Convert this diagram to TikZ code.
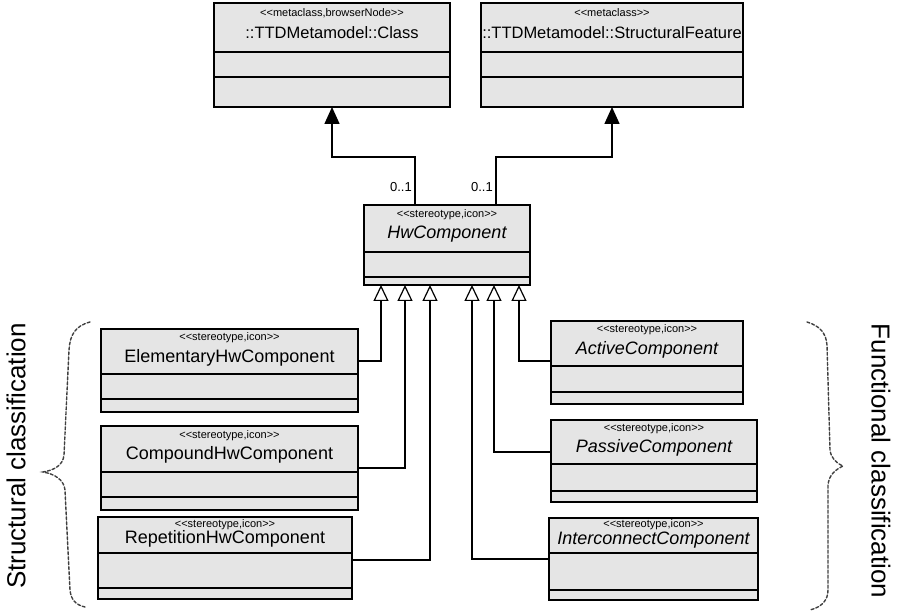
\documentclass[tikz,border=0pt]{standalone}
\usepackage{fontspec}
\setmainfont{Liberation Sans}
\usetikzlibrary{arrows.meta,calc,shadows}
\tikzset{
 umlbox/.style={draw=black, line width=1.5pt, fill=black!10, inner sep=0pt, outer sep=0pt,
   drop shadow={shadow xshift=1.3pt, shadow yshift=-1.3pt, fill=black!85, opacity=1}},
 divider/.style={line width=1.2pt},
 stereo/.style={font=\fontsize{11}{12}\selectfont, inner sep=0pt},
 ctitle/.style={font=\fontsize{18}{20}\selectfont, inner sep=0pt},
 ttitle/.style={font=\fontsize{16.5}{18}\selectfont, inner sep=0pt},
 gen/.style={line width=1.3pt, -{Triangle[length=16pt,width=15pt,fill=white,line width=1.2pt]}},
 assoc/.style={line width=1.5pt, -{Triangle[length=17pt,width=15pt]}},
 mult/.style={font=\fontsize{13}{14}\selectfont, inner sep=0pt},
 bracepath/.style={line width=1.4pt, dash pattern=on 3pt off 2pt, line cap=round, black!75},
 classlabel/.style={font=\fontsize{26}{28}\selectfont, inner sep=0pt}
}
% name, x, y, w, h, div1, div2, stereotype, title(with style)
\newcommand\umlclass[9]{%
 \node[umlbox, anchor=north west, minimum width=#4pt, minimum height=#5pt] (#1) at (#2,#3) {};
 \draw[divider] ($(#1.north west)+(0,#6)$) -- ($(#1.north east)+(0,#6)$);
 \draw[divider] ($(#1.north west)+(0,#7)$) -- ($(#1.north east)+(0,#7)$);
 \node[stereo] (#1-st) at ($(#1.north)+(0,{0.2*#6})$) {#8};
 #9
}
\begin{document}
\begin{tikzpicture}[x=1pt,y=-1pt]
\useasboundingbox (0,0) rectangle (898,612);

% top classes
\umlclass{cls}{214}{3}{236}{104}{49}{74}{<{}<metaclass,browserNode>{}>}
 {\node[ttitle] (cls-ti) at ($(cls.north)+(0,30)$) {::TTDMetamodel::Class};}
\umlclass{sf}{481}{3}{262}{104}{49}{74}{<{}<metaclass>{}>}
 {\node[ttitle] (sf-ti) at ($(sf.north)+(0,30)$) {::TTDMetamodel::StructuralFeature};}

% central class
\umlclass{hw}{364}{205}{166}{80}{47}{72}{<{}<stereotype,icon>{}>}
 {\node[ctitle] (hw-ti) at ($(hw.north)+(0,29)$) {\itshape HwComponent};}

% structural classification
\umlclass{elem}{101}{329}{257}{83}{45}{70}{<{}<stereotype,icon>{}>}
 {\node[ctitle] (elem-ti) at ($(elem.north)+(0,29)$) {ElementaryHwComponent};}
\umlclass{comp}{101}{426}{257}{84}{46}{71}{<{}<stereotype,icon>{}>}
 {\node[ctitle] (comp-ti) at ($(comp.north)+(0,29)$) {CompoundHwComponent};}
\umlclass{rep}{98}{517}{254}{82}{36}{71}{<{}<stereotype,icon>{}>}
 {\node[ctitle] (rep-ti) at ($(rep.north)+(0,22)$) {RepetitionHwComponent};}

% functional classification
\umlclass{act}{551}{321}{192}{83}{45}{71}{<{}<stereotype,icon>{}>}
 {\node[ctitle] (act-ti) at ($(act.north)+(0,29)$) {\itshape ActiveComponent};}
\umlclass{pas}{551}{420}{206}{82}{44}{71}{<{}<stereotype,icon>{}>}
 {\node[ctitle] (pas-ti) at ($(pas.north)+(0,28)$) {\itshape PassiveComponent};}
\umlclass{ic}{549}{518}{209}{82}{35}{72}{<{}<stereotype,icon>{}>}
 {\node[ctitle] (ic-ti) at ($(ic.north)+(0,22)$) {\itshape InterconnectComponent};}

% associations to metaclasses
\draw[assoc] ($(hw.north west)+(51,0)$) |- ($(cls.south)+(0,50)$) -- (cls.south);
\draw[assoc] ($(hw.north west)+(132,0)$) |- ($(sf.south)+(0,50)$) -- (sf.south);
\node[mult, anchor=east] (m1) at ($(hw.north west)+(48,-18)$) {0..1};
\node[mult, anchor=east] (m2) at ($(hw.north west)+(129,-18)$) {0..1};

% generalizations
\draw[gen] ($(elem.north east)+(0,32)$) -| ($(hw.south west)+(17,0)$);
\draw[gen] ($(comp.north east)+(0,42)$) -| ($(hw.south west)+(41,0)$);
\draw[gen] ($(rep.north east)+(0,43)$) -| ($(hw.south west)+(66,0)$);
\draw[gen] ($(ic.north west)+(0,41)$) -| ($(hw.south west)+(108,0)$);
\draw[gen] ($(pas.north west)+(0,32)$) -| ($(hw.south west)+(130,0)$);
\draw[gen] ($(act.north west)+(0,40)$) -| ($(hw.south west)+(155,0)$);

% braces
\draw[bracepath] (90,322) .. controls (75,326) and (70,335) .. (69,350)
  -- (64,455) .. controls (63,465) and (55,470) .. (43,472)
  .. controls (55,474) and (64,480) .. (65,490)
  -- (70,590) .. controls (71,600) and (76,605) .. (85,607);
\draw[bracepath] (807,322) .. controls (820,326) and (826,333) .. (827,345)
  -- (830,450) .. controls (831,458) and (836,463) .. (843,466)
  .. controls (835,470) and (829,475) .. (828,485)
  -- (828,590) .. controls (828,600) and (822,607) .. (810,610);

% classification labels
\node[classlabel, rotate=90] (slab) at (16,456) {Structural classification};
\node[classlabel, rotate=-90] (flab) at (881,461) {Functional classification};
\end{tikzpicture}
\end{document}
